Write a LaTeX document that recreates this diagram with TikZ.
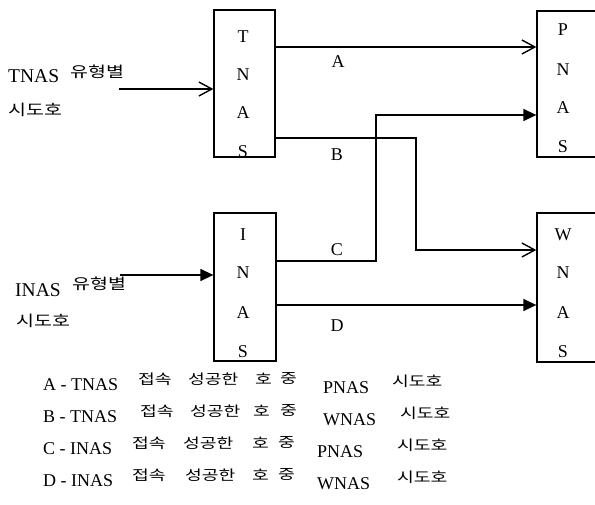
\documentclass[tikz,border=0pt]{standalone}
\usepackage{fontspec}
\setmainfont{Liberation Serif}
\newfontfamily\kr[FakeStretch=1.3]{Noto Sans CJK KR}
\usetikzlibrary{arrows.meta}
\begin{document}
\begin{tikzpicture}[x=1pt,y=-1pt,
  nasbox/.style={draw,line width=1.3pt,rectangle,inner sep=0pt},
  lt/.style={font=\fontsize{18}{20}\selectfont,inner sep=0pt},
  ltl/.style={font=\fontsize{19.5}{21}\selectfont,inner sep=0pt,anchor=base west},
  kol/.style={font=\kr\fontsize{15}{17}\selectfont,inner sep=0pt,anchor=west},
  kos/.style={font=\kr\fontsize{14}{16}\selectfont,inner sep=0pt,anchor=west},
  wire/.style={line width=1.4pt},
  openarr/.style={wire,-{Straight Barb[length=13pt,width=14pt]}},
  fillarr/.style={wire,-{Triangle[length=13pt,width=12pt]}}]
\useasboundingbox (0,0) rectangle (595,505);
% boxes
\node[nasbox,minimum width=61pt,minimum height=147pt] (T) at (244.5,83.5) {};
\node[nasbox,minimum width=62pt,minimum height=146pt] (P) at (568,84) {};
\node[nasbox,minimum width=62pt,minimum height=148pt] (I) at (245,287) {};
\node[nasbox,minimum width=62pt,minimum height=149pt] (W) at (568,287.5) {};
% box letters
\node[lt] (T1) at (243,37) {T};
\node[lt] (T2) at (243,75) {N};
\node[lt] (T3) at (243,113) {A};
\node[lt] (T4) at (243,152) {S};
\node[lt] (P1) at (563,30) {P};
\node[lt] (P2) at (563,70) {N};
\node[lt] (P3) at (563,108) {A};
\node[lt] (P4) at (563,147) {S};
\node[lt] (I1) at (243,235) {I};
\node[lt] (I2) at (243,273) {N};
\node[lt] (I3) at (243,313) {A};
\node[lt] (I4) at (243,352) {S};
\node[lt] (W1) at (563,235) {W};
\node[lt] (W2) at (563,273) {N};
\node[lt] (W3) at (563,313) {A};
\node[lt] (W4) at (563,352) {S};
% left labels
\node[ltl] (tl1) at (8,83) {TNAS};
\node[kol] (tl2) at (70,72) {유형별};
\node[kol] (tl3) at (8,110) {시도호};
\node[ltl] (il1) at (15,297) {INAS};
\node[kol] (il2) at (72,284) {유형별};
\node[kol] (il3) at (16,321) {시도호};
% connector coordinates
\coordinate (tin) at (119,89);
\coordinate (iin) at (120,275);
\coordinate (ya) at (0,47);
\coordinate (yb) at (0,138);
\coordinate (bx) at (416,250);
\coordinate (yc) at (0,261);
\coordinate (cx) at (376,115);
\coordinate (yd) at (0,305);
% connectors
\draw[openarr] (tin) -- (tin -| T.west);
\draw[fillarr] (iin) -- (iin -| I.west);
\draw[openarr] (T.east |- ya) -- (P.west |- ya);
\draw[openarr] (T.east |- yb) -| (bx) -- (bx -| W.west);
\draw[fillarr] (I.east |- yc) -| (cx) -- (cx -| P.west);
\draw[fillarr] (I.east |- yd) -- (W.west |- yd);
% connector labels
\node[lt] (la) at (338,62) {A};
\node[lt] (lb) at (337,155) {B};
\node[lt] (lc) at (337,250) {C};
\node[lt] (ld) at (337,326) {D};
% legend
\foreach \n/\lab/\src/\dst/\yb/\xa/\xb/\xc/\xd/\xe/\xf in {
  1/A/TNAS/PNAS/390/138/188/255/280/323/392,
  2/B/TNAS/WNAS/422/140/190/253/280/323/400,
  3/C/INAS/PNAS/454/132/183/252/278/317/397,
  4/D/INAS/WNAS/486/132/185/252/278/317/397}{
  \node[lt,anchor=base west] (g\n a) at (43,\yb) {\lab\ - \src};
  \node[kos] (g\n b) at (\xa,\yb-11) {접속};
  \node[kos] (g\n c) at (\xb,\yb-11) {성공한};
  \node[kos] (g\n d) at (\xc,\yb-11) {호};
  \node[kos] (g\n e) at (\xd,\yb-11) {중};
  \node[lt,anchor=base west] (g\n f) at (\xe,\yb+3) {\dst};
  \node[kos] (g\n g) at (\xf,\yb-9) {시도호};
}
\end{tikzpicture}
\end{document}
